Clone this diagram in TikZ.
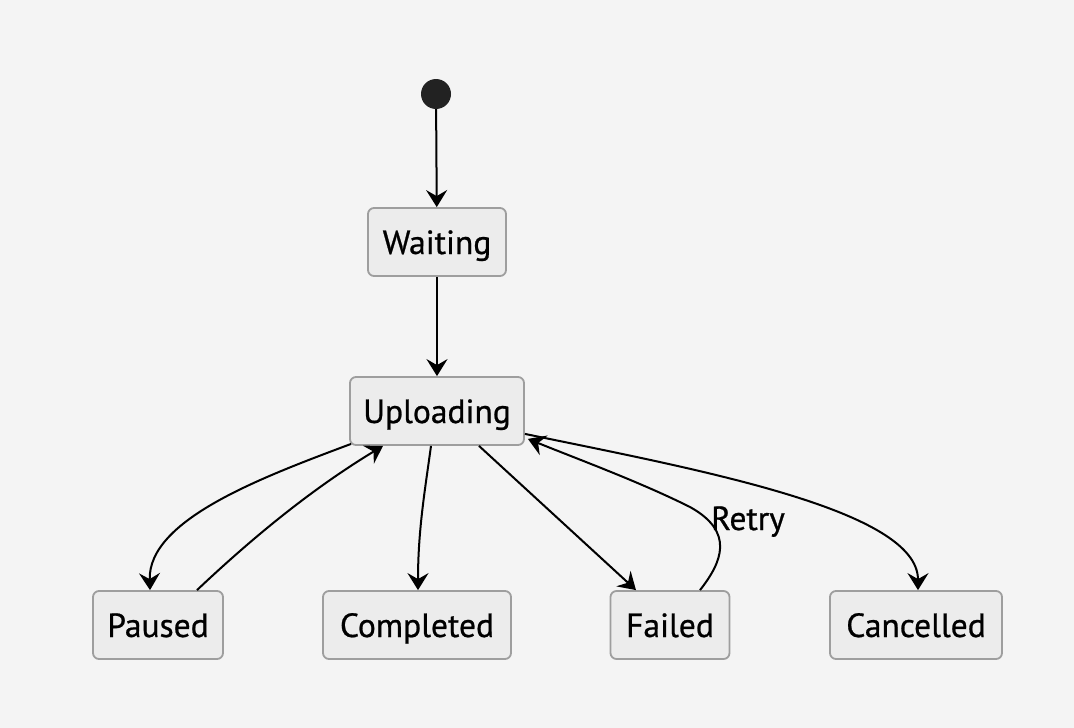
\documentclass[tikz,border=0pt]{standalone}
\usepackage{fontspec}
\setmainfont{PT Sans}
\newfontfamily\statefont{PT Sans}[FakeBold=0.7]
\usetikzlibrary{arrows.meta}
\definecolor{bgc}{HTML}{F4F4F4}
\definecolor{boxfill}{HTML}{ECECEC}
\definecolor{boxline}{HTML}{9E9E9E}
\definecolor{dotc}{HTML}{222222}
\tikzset{
  state/.style={rectangle, rounded corners=6pt, draw=boxline, fill=boxfill,
    line width=1.8pt, minimum height=68pt, text height=24pt, text depth=0pt,
    font=\statefont\fontsize{33.5}{40}\selectfont},
  startdot/.style={circle, fill=dotc, minimum size=30pt, inner sep=0pt},
  trans/.style={line width=2pt, -{Stealth[length=17pt,width=21pt,inset=6pt]}},
  >=Stealth
}

\begin{document}
\begin{tikzpicture}[x=1pt, y=-1pt]
  \fill[bgc] (0,0) rectangle (1074,728);
  \useasboundingbox (0,0) rectangle (1074,728);
  \node[startdot] (start) at (436,94) {};
  \node[state, minimum width=138pt] (wait)   at (437,242) {Waiting};
  \node[state, minimum width=174pt] (upl)    at (437,411) {Uploading};
  \node[state, minimum width=130pt] (paused) at (158,625) {Paused};
  \node[state, minimum width=188pt] (done)   at (417,625) {Completed};
  \node[state, minimum width=119pt] (failed) at (670,625) {Failed};
  \node[state, minimum width=172pt] (cancel) at (916,625) {Cancelled};
  \node[font=\statefont\fontsize{33.5}{40}\selectfont, text height=24pt,
    text depth=0pt] (retry) at (748,518) {Retry};
  % transitions
  \draw[trans] (start) -- (wait);
  \draw[trans] (wait) -- (upl);
  \draw[trans] ([xshift=2pt,yshift=2pt]upl.south west)
    .. controls (260,478) and (148,520) .. ([xshift=-8pt]paused.north);
  \draw[trans] ([xshift=39pt]paused.north)
    .. controls (250,540) and (310,490) .. ([xshift=-54pt]upl.south);
  \draw[trans] ([xshift=-6pt]upl.south)
    .. controls (425,490) and (418,530) .. ([xshift=1pt]done.north);
  \draw[trans] ([xshift=42pt]upl.south) -- ([xshift=-34pt]failed.north);
  \draw[trans] ([xshift=30pt]failed.north)
    .. controls (722,562) and (735,532) .. (690,507)
    .. controls (640,482) and (580,460) .. ([xshift=3pt,yshift=7pt]upl.south east);
  \draw[trans] ([yshift=12pt]upl.south east)
    .. controls (700,470) and (918,510) .. ([xshift=2pt]cancel.north);
\end{tikzpicture}
\end{document}
